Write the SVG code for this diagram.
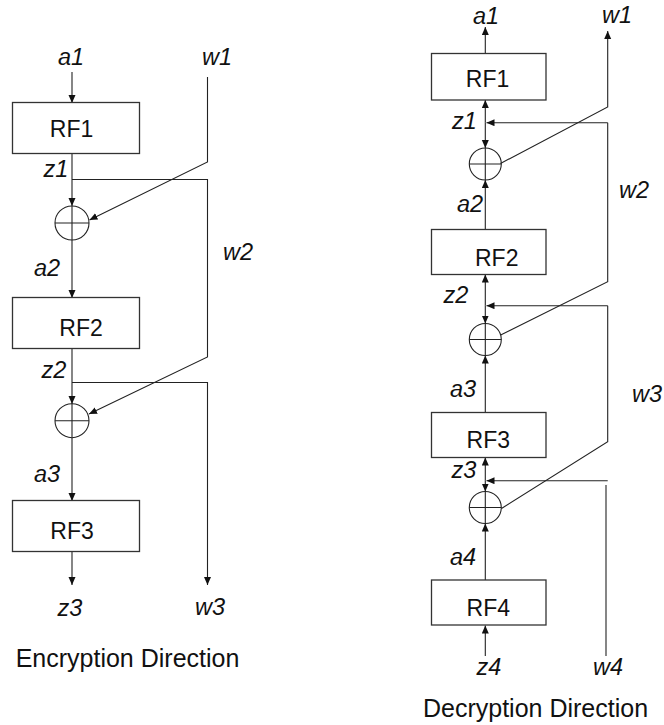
<svg xmlns="http://www.w3.org/2000/svg" width="664" height="725" viewBox="0 0 664 725">
<defs>
<marker id="ah" markerUnits="userSpaceOnUse" markerWidth="9" markerHeight="8" refX="8" refY="3.5" orient="auto">
<path d="M0,0 L8,3.5 L0,7 z" fill="#111"/>
</marker>
<style>
.box{fill:#fff;stroke:#333;stroke-width:1.3}
.xor{fill:none;stroke:#222;stroke-width:1.1}
.ln{fill:none;stroke:#222;stroke-width:1.1}
.arr{fill:none;stroke:#222;stroke-width:1.1;marker-end:url(#ah)}
.rf{font-family:"Liberation Sans",Arial,sans-serif;font-size:23px;fill:#111;text-anchor:middle}
.lb{font-family:"Liberation Sans",Arial,sans-serif;font-size:23.5px;font-style:italic;fill:#111;text-anchor:middle}
.ttl{font-family:"Liberation Sans",Arial,sans-serif;font-size:25px;fill:#111;text-anchor:middle}
</style>
</defs>
<rect width="664" height="725" fill="#fff"/>
<g id="connectors">
<line class="arr" x1="72" y1="72" x2="72" y2="103"/>
<line class="arr" x1="72" y1="153" x2="72" y2="206"/>
<polyline class="arr" points="207.5,77 207.5,162 89.5,220"/>
<polyline class="arr" points="72,179.5 207.5,179.5 207.5,357 89,414"/>
<line class="arr" x1="72" y1="240" x2="72" y2="298"/>
<line class="arr" x1="72" y1="348" x2="72" y2="404"/>
<polyline class="arr" points="72,382.5 207.5,382.5 207.5,585"/>
<line class="arr" x1="72" y1="437.7" x2="72" y2="501"/>
<line class="arr" x1="72" y1="552" x2="72" y2="585"/>
<line class="arr" x1="485.3" y1="54" x2="485.3" y2="27"/>
<line class="arr" x1="485.3" y1="122.7" x2="485.3" y2="100"/>
<line class="arr" x1="485.3" y1="122.7" x2="485.3" y2="148"/>
<line class="arr" x1="607.7" y1="122.7" x2="486.5" y2="122.7"/>
<polyline class="arr" points="500.5,163.5 607.7,107 607.7,31"/>
<line class="arr" x1="485.3" y1="229.5" x2="485.3" y2="180"/>
<line class="arr" x1="485.3" y1="305.7" x2="485.3" y2="274.5"/>
<line class="arr" x1="485.3" y1="305.7" x2="485.3" y2="323.5"/>
<line class="arr" x1="607.7" y1="305.7" x2="486.5" y2="305.7"/>
<polyline class="ln" points="607.7,122.7 607.7,281.7 500.7,335"/>
<line class="arr" x1="485.3" y1="412.5" x2="485.3" y2="355.5"/>
<line class="arr" x1="485.3" y1="480.7" x2="485.3" y2="457.5"/>
<line class="arr" x1="485.3" y1="480.7" x2="485.3" y2="491.5"/>
<line class="arr" x1="607.7" y1="480.7" x2="486.5" y2="480.7"/>
<polyline class="ln" points="607.7,305.7 607.7,441.7 501.5,508.5"/>
<line class="arr" x1="485.3" y1="580" x2="485.3" y2="523.5"/>
<line class="arr" x1="485.3" y1="656" x2="485.3" y2="625.5"/>
<line class="ln" x1="606" y1="485" x2="606" y2="656"/>
</g>
<g id="enc-RF1"><rect class="box" x="12.5" y="102.5" width="127" height="51"/><text class="rf" x="71.5" y="136.7">RF1</text></g>
<g id="enc-xor1"><circle class="xor" cx="72" cy="223" r="17"/><line class="ln" x1="55" y1="223" x2="89" y2="223"/><line class="ln" x1="72" y1="206" x2="72" y2="240"/></g>
<g id="enc-RF2"><rect class="box" x="12.5" y="297.5" width="127" height="51"/><text class="rf" x="81" y="336">RF2</text></g>
<g id="enc-xor2"><circle class="xor" cx="72" cy="420.7" r="17"/><line class="ln" x1="55" y1="420.7" x2="89" y2="420.7"/><line class="ln" x1="72" y1="403.7" x2="72" y2="437.7"/></g>
<g id="enc-RF3"><rect class="box" x="12.5" y="500.5" width="127" height="51"/><text class="rf" x="72" y="539">RF3</text></g>
<g id="dec-RF1"><rect class="box" x="431.5" y="53.5" width="114.5" height="46.5"/><text class="rf" x="487.5" y="86.7">RF1</text></g>
<g id="dec-xor1"><circle class="xor" cx="485.3" cy="164" r="16"/><line class="ln" x1="469.3" y1="164" x2="501.3" y2="164"/><line class="ln" x1="485.3" y1="148" x2="485.3" y2="180"/></g>
<g id="dec-RF2"><rect class="box" x="431.5" y="229.5" width="114.5" height="45"/><text class="rf" x="496.7" y="265.7">RF2</text></g>
<g id="dec-xor2"><circle class="xor" cx="485.3" cy="339.5" r="16"/><line class="ln" x1="469.3" y1="339.5" x2="501.3" y2="339.5"/><line class="ln" x1="485.3" y1="323.5" x2="485.3" y2="355.5"/></g>
<g id="dec-RF3"><rect class="box" x="431.5" y="412.5" width="114.5" height="45"/><text class="rf" x="488.3" y="448.3">RF3</text></g>
<g id="dec-xor3"><circle class="xor" cx="485.3" cy="507.5" r="16"/><line class="ln" x1="469.3" y1="507.5" x2="501.3" y2="507.5"/><line class="ln" x1="485.3" y1="491.5" x2="485.3" y2="523.5"/></g>
<g id="dec-RF4"><rect class="box" x="431.5" y="580" width="114.5" height="45"/><text class="rf" x="488.3" y="616">RF4</text></g>
<g id="labels">
<text class="lb" x="71" y="65">a1</text>
<text class="lb" x="217" y="65">w1</text>
<text class="lb" x="56" y="176.7">z1</text>
<text class="lb" x="238" y="260">w2</text>
<text class="lb" x="47" y="276">a2</text>
<text class="lb" x="54" y="378">z2</text>
<text class="lb" x="47" y="482">a3</text>
<text class="lb" x="70" y="616">z3</text>
<text class="lb" x="210" y="615">w3</text>
<text class="ttl" x="127.5" y="667">Encryption Direction</text>
<text class="lb" x="486" y="24">a1</text>
<text class="lb" x="617" y="23">w1</text>
<text class="lb" x="464.5" y="129">z1</text>
<text class="lb" x="634" y="198">w2</text>
<text class="lb" x="470" y="212">a2</text>
<text class="lb" x="456" y="303">z2</text>
<text class="lb" x="463" y="397">a3</text>
<text class="lb" x="647" y="402">w3</text>
<text class="lb" x="464" y="478">z3</text>
<text class="lb" x="463" y="565">a4</text>
<text class="lb" x="489" y="675">z4</text>
<text class="lb" x="608" y="675">w4</text>
<text class="ttl" x="535.5" y="717">Decryption Direction</text>
</g>
</svg>
